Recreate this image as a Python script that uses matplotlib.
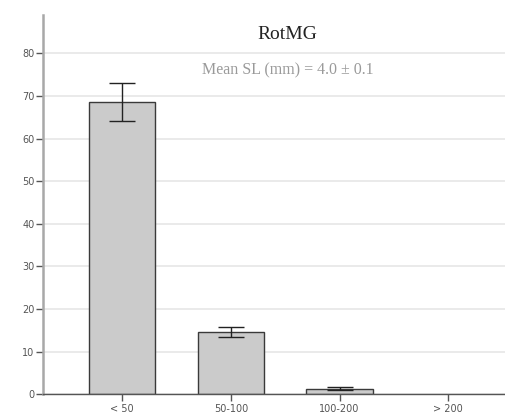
import matplotlib
matplotlib.use("Agg")
import matplotlib.pyplot as plt

# length-class frequencies (%) with error bars
categories = ["< 50", "50-100", "100-200", "> 200"]
percent = [68.6, 14.6, 1.35, 0.0]
errors = [4.4, 1.2, 0.25, 0.0]
y_ticks = [0, 10, 20, 30, 40, 50, 60, 70, 80]

fig = plt.figure(figsize=(5.06, 4.20), dpi=100)
ax = fig.add_axes([0.0844, 0.0612, 0.9156, 0.903])

x = list(range(len(categories)))
# empty classes get no outline so nothing shows on the baseline
widths = [1.0 if v > 0 else 0.0 for v in percent]
ax.bar(x, percent, width=0.61, color="#cbcbcb", edgecolor="#3a3a3a",
       linewidth=widths, zorder=3)
ax.errorbar(x[:3], percent[:3], yerr=errors[:3], fmt="none", ecolor="#222222",
            elinewidth=1.0, capsize=9.5, capthick=1.0, zorder=4)

ax.set_xlim(-0.73, 3.53)
ax.set_ylim(0, 89)
ax.set_xticks(x)
ax.set_xticklabels(categories)
ax.set_yticks(y_ticks)
ax.yaxis.grid(True, color="#e6e6e6", linewidth=1.2, zorder=0)
ax.set_axisbelow(True)

for side in ["top", "right"]:
    ax.spines[side].set_visible(False)
ax.spines["left"].set_color("#a8a8a8")
ax.spines["left"].set_linewidth(1.8)
ax.spines["bottom"].set_color("#555555")
ax.spines["bottom"].set_linewidth(1.0)
ax.spines["bottom"].set_zorder(5)

ax.tick_params(axis="both", direction="out", length=5, width=1.0,
               color="#555555", labelcolor="#555555", labelsize=7)
ax.tick_params(axis="y", pad=1)
ax.tick_params(axis="x", pad=2)

fig.text(0.567, 0.917, "RotMG", family="Liberation Serif", fontsize=14,
         color="#222222", ha="center", va="center")
fig.text(0.569, 0.833, "Mean SL (mm) = 4.0 \u00b1 0.1", family="Liberation Serif",
         fontsize=11.5, color="#9a9a9a", ha="center", va="center")

fig.savefig("out.png", dpi=100)
